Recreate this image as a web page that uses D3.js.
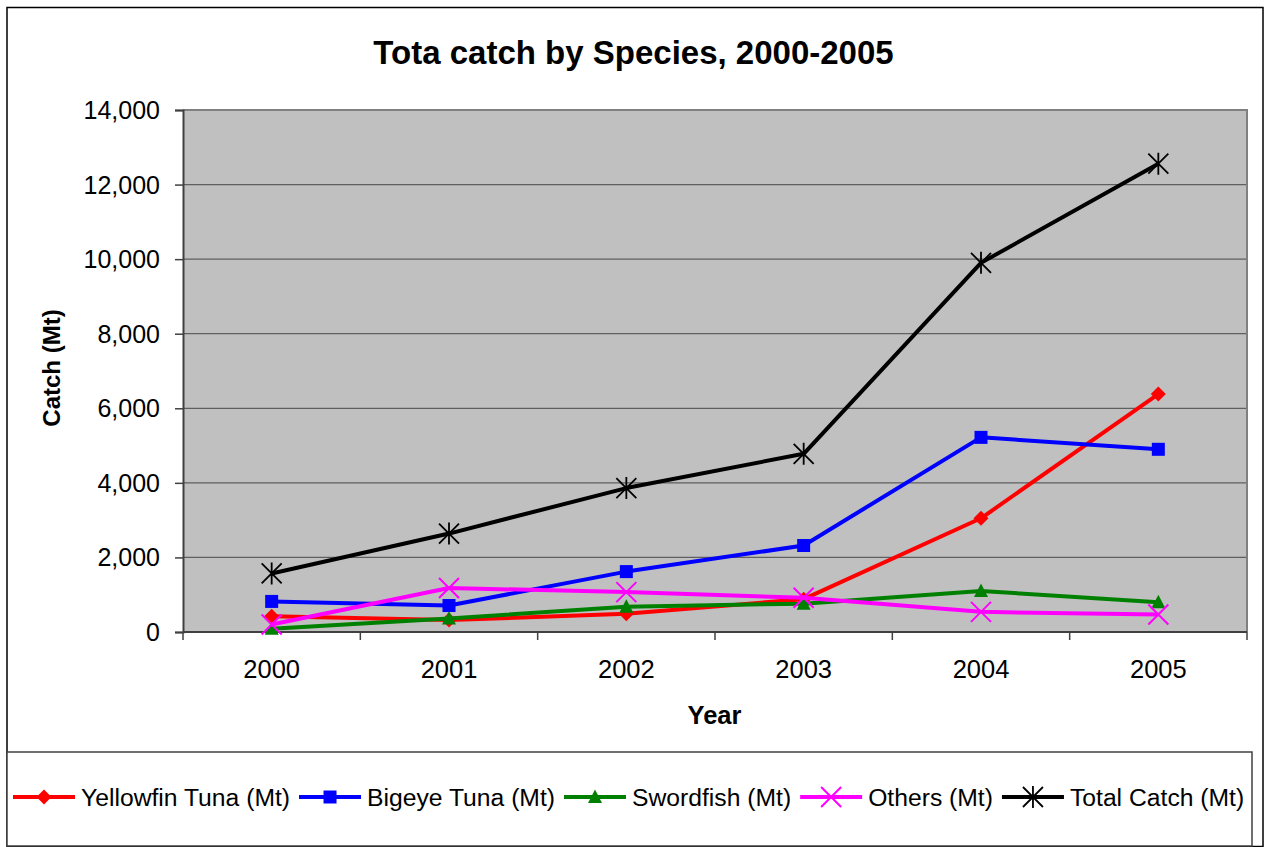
<!DOCTYPE html>
<html>
<head>
<meta charset="utf-8">
<script src="https://d3js.org/d3.v7.min.js"></script>
<style>
  html, body { margin: 0; padding: 0; background: #fff; }
  svg { display: block; font-family: Arial, "Liberation Sans", Helvetica, sans-serif; }
</style>
</head>
<body>
<svg id="chart" width="1266" height="847"></svg>
<script>
// Catch by species, 2000-2005 (metric tonnes)
const years = ["2000", "2001", "2002", "2003", "2004", "2005"];
const yellowfin = [420, 320, 490, 880, 3050, 6380];
const bigeye = [820, 710, 1620, 2320, 5220, 4900];
const swordfish = [90, 360, 680, 760, 1100, 800];
const others = [200, 1180, 1070, 920, 540, 470];
const totalCatch = [1570, 2640, 3860, 4780, 9900, 12560];
const yTicks = [0, 2000, 4000, 6000, 8000, 10000, 12000, 14000];
const seriesNames = ["Yellowfin Tuna (Mt)", "Bigeye Tuna (Mt)", "Swordfish (Mt)", "Others (Mt)", "Total Catch (Mt)"];

const series = [
  { name: seriesNames[0], values: yellowfin, color: "#FF0000", marker: "diamond" },
  { name: seriesNames[1], values: bigeye, color: "#0000FF", marker: "square" },
  { name: seriesNames[2], values: swordfish, color: "#008000", marker: "triangle" },
  { name: seriesNames[3], values: others, color: "#FF00FF", marker: "cross" },
  { name: seriesNames[4], values: totalCatch, color: "#000000", marker: "star" }
];

const svg = d3.select("#chart");
const plot = { left: 183, right: 1247, top: 110, bottom: 632 };

const x = d3.scaleBand().domain(years).range([plot.left, plot.right]).padding(0);
const y = d3.scaleLinear().domain([0, 14000]).range([plot.bottom, plot.top]);
const cx = d => x(d) + x.bandwidth() / 2;

// outer frame
svg.append("rect").attr("x", 7).attr("y", 7.5).attr("width", 1256).attr("height", 839)
  .attr("fill", "#fff").attr("stroke", "#000").attr("stroke-width", 1.5);

// title
svg.append("text").attr("x", 633.5).attr("y", 64).attr("text-anchor", "middle")
  .attr("font-size", 33).attr("font-weight", "bold").text("Tota catch by Species, 2000-2005");

// plot background
svg.append("rect").attr("x", plot.left).attr("y", plot.top)
  .attr("width", plot.right - plot.left).attr("height", plot.bottom - plot.top)
  .attr("fill", "#C0C0C0");

// gridlines
svg.append("g").selectAll("line").data(yTicks.filter(t => t > 0 && t < 14000)).join("line")
  .attr("x1", plot.left).attr("x2", plot.right)
  .attr("y1", d => y(d)).attr("y2", d => y(d))
  .attr("stroke", "#5f5f5f").attr("stroke-width", 1.2);

// plot border top / right
svg.append("path")
  .attr("d", `M${plot.left},${plot.top}H${plot.right}V${plot.bottom}`)
  .attr("fill", "none").attr("stroke", "#808080").attr("stroke-width", 2);

// y axis
const yAxis = d3.axisLeft(y).tickValues(yTicks).tickFormat(d3.format(",")).tickSize(8).tickPadding(15);
const gy = svg.append("g").attr("transform", `translate(${plot.left},0)`).call(yAxis);
gy.select(".domain").attr("stroke", "#404040").attr("stroke-width", 2);
gy.selectAll(".tick line").attr("stroke", "#404040").attr("stroke-width", 1.5);
gy.selectAll(".tick text").attr("font-size", 25).attr("fill", "#000")
  .attr("font-family", "Arial, 'Liberation Sans', sans-serif").attr("dy", "0.34em");

// x axis with ticks on category boundaries
const gx = svg.append("g").attr("transform", `translate(0,${plot.bottom})`);
gx.append("line").attr("x1", plot.left).attr("x2", plot.right).attr("y1", 0).attr("y2", 0)
  .attr("stroke", "#404040").attr("stroke-width", 2);
const bounds = years.map(d => x(d)).concat([plot.right]);
gx.selectAll("line.tk").data(bounds).join("line").attr("class", "tk")
  .attr("x1", d => d).attr("x2", d => d).attr("y1", 0).attr("y2", 8)
  .attr("stroke", "#404040").attr("stroke-width", 1.5);
gx.selectAll("text").data(years).join("text")
  .attr("x", d => cx(d)).attr("y", 46).attr("text-anchor", "middle")
  .attr("font-size", 25.5).text(d => d);

// axis titles
svg.append("text").attr("x", 714.5).attr("y", 724).attr("text-anchor", "middle")
  .attr("font-size", 25.5).attr("font-weight", "bold").text("Year");
svg.append("text").attr("transform", "translate(60,368) rotate(-90)").attr("text-anchor", "middle")
  .attr("font-size", 24).attr("font-weight", "bold").text("Catch (Mt)");

// marker drawing
function drawMarker(g, type, color) {
  if (type === "diamond") {
    g.append("path").attr("d", "M0,-7.5L7.5,0L0,7.5L-7.5,0Z").attr("fill", color);
  } else if (type === "square") {
    g.append("rect").attr("x", -6.5).attr("y", -6.5).attr("width", 13).attr("height", 13).attr("fill", color);
  } else if (type === "triangle") {
    g.append("path").attr("d", "M0,-7.5L7,6L-7,6Z").attr("fill", color);
  } else if (type === "cross") {
    g.append("path").attr("d", "M-10,-10L10,10M-10,10L10,-10")
      .attr("stroke", color).attr("stroke-width", 2).attr("fill", "none");
  } else if (type === "star") {
    g.append("path").attr("d", "M-10,-10L10,10M-10,10L10,-10M0,-11V11")
      .attr("stroke", color).attr("stroke-width", 1.8).attr("fill", "none");
  }
}

const line = d3.line().x((v, i) => cx(years[i])).y(v => y(v));

series.forEach(s => {
  const g = svg.append("g");
  g.append("path").attr("d", line(s.values)).attr("fill", "none")
    .attr("stroke", s.color).attr("stroke-width", 4).attr("stroke-linejoin", "round");
  s.values.forEach((v, i) => {
    const m = g.append("g").attr("transform", `translate(${cx(years[i])},${y(v)})`);
    drawMarker(m, s.marker, s.color);
  });
});

// legend
svg.append("rect").attr("x", 7).attr("y", 752).attr("width", 1245).attr("height", 94)
  .attr("fill", "#fff").attr("stroke", "#404040").attr("stroke-width", 1.5);
let lx = 13;
const ly = 797;
series.forEach(s => {
  const g = svg.append("g");
  g.append("line").attr("x1", lx).attr("x2", lx + 62).attr("y1", ly).attr("y2", ly)
    .attr("stroke", s.color).attr("stroke-width", 4);
  drawMarker(g.append("g").attr("transform", `translate(${lx + 31},${ly})`), s.marker, s.color);
  const t = g.append("text").attr("x", lx + 68).attr("y", ly).attr("dy", "0.36em")
    .attr("font-size", 24.7).text(s.name);
  lx = lx + 68 + t.node().getComputedTextLength() + 9;
});
</script>
</body>
</html>
